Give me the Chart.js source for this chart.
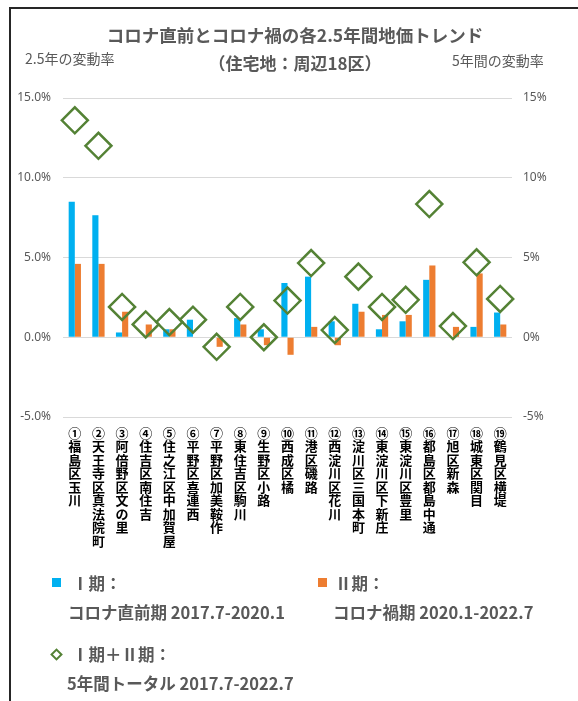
<!DOCTYPE html>
<html>
<head>
<meta charset="utf-8">
<script src="https://cdn.jsdelivr.net/npm/chart.js@4.4.1/dist/chart.umd.min.js"></script>
<style>
  body { margin: 0; background: #fff; }
  #wrap { position: relative; width: 578px; height: 701px; overflow: hidden; font-family: 'Noto Sans CJK JP', sans-serif; color: #595959; }
  #frame { position: absolute; left: 9px; top: 7px; width: 620px; height: 720px; border-top: 2px solid #262626; border-left: 2px solid #262626; }
  canvas { position: absolute; left: 0; top: 0; }
  .t { position: absolute; white-space: nowrap; }
  .title { left: 0; width: 590px; text-align: center; font-weight: bold; }
  .lg { font-size: 16.5px; font-weight: bold; line-height: 20px; }
  .sq { position: absolute; width: 9px; height: 9px; }
  .dia { position: absolute; width: 5px; height: 5px; border: 2px solid #548235; transform: rotate(45deg); }
</style>
</head>
<body>
<div id="wrap">
  <canvas id="chart" width="578" height="701"></canvas>
  <div id="frame"></div>
  <div class="t title" style="top:25px;font-size:17.5px;line-height:20px;">コロナ直前とコロナ禍の各2.5年間地価トレンド</div>
  <div class="t title" style="top:53px;font-size:17px;line-height:20px;">（住宅地：周辺18区）</div>
  <div class="t" style="left:25px;top:49px;font-size:14px;line-height:18px;">2.5年の変動率</div>
  <div class="t" style="left:452px;top:51px;font-size:14px;line-height:18px;">5年間の変動率</div>

  <div class="sq" style="left:52px;top:578px;background:#00B0F0;"></div>
  <div class="t lg" style="left:72px;top:573px;">Ⅰ期：</div>
  <div class="t lg" style="left:68px;top:602px;">コロナ直前期 2017.7-2020.1</div>

  <div class="sq" style="left:318px;top:578px;background:#ED7D31;"></div>
  <div class="t lg" style="left:335px;top:573px;">Ⅱ期：</div>
  <div class="t lg" style="left:333px;top:602px;">コロナ禍期 2020.1-2022.7</div>

  <div class="dia" style="left:52px;top:650px;"></div>
  <div class="t lg" style="left:72px;top:644px;">Ⅰ期＋Ⅱ期：</div>
  <div class="t lg" style="left:67px;top:673px;">5年間トータル 2017.7-2022.7</div>
</div>
<script>
const categories = ['①福島区玉川', '②天王寺区真法院町', '③阿倍野区文の里', '④住吉区南住吉', '⑤住之江区中加賀屋',
  '⑥平野区喜連西', '⑦平野区加美鞍作', '⑧東住吉区駒川', '⑨生野区小路', '⑩西成区橘',
  '⑪港区磯路', '⑫西淀川区花川', '⑬淀川区三国本町', '⑭東淀川区下新庄', '⑮東淀川区豊里',
  '⑯都島区都島中通', '⑰旭区新森', '⑱城東区関目', '⑲鶴見区横堤'];
// Ⅰ期 2017.7-2020.1 (%)
const period1 = [8.5, 7.65, 0.3, 0, 0.5, 1.1, 0, 1.2, 0.5, 3.4, 3.8, 1.0, 2.1, 0.5, 1.0, 3.6, 0, 0.65, 1.55];
// Ⅱ期 2020.1-2022.7 (%)
const period2 = [4.6, 4.6, 1.6, 0.8, 0.5, 0, -0.6, 0.8, -0.5, -1.1, 0.65, -0.5, 1.6, 1.4, 1.4, 4.5, 0.65, 4.0, 0.8];
// Ⅰ期＋Ⅱ期 5年間 (%)
const total = [13.6, 12.0, 1.9, 0.8, 0.95, 1.1, -0.6, 1.9, 0.0, 2.3, 4.65, 0.45, 3.8, 1.9, 2.35, 8.35, 0.7, 4.7, 2.4];
const leftTicks = [-5, 0, 5, 10, 15];

const grey = '#595959';

new Chart(document.getElementById('chart'), {
  type: 'bar',
  data: {
    labels: categories.map(c => Array.from(c)),
    datasets: [
      {
        type: 'line',
        label: 'Ⅰ期＋Ⅱ期',
        data: total,
        yAxisID: 'y1',
        showLine: false,
        pointStyle: 'rectRot',
        pointRadius: 13,
        pointBorderWidth: 2.5,
        borderColor: '#548235',
        backgroundColor: 'rgba(0,0,0,0)',
        order: 1
      },
      {
        label: 'Ⅰ期',
        data: period1,
        backgroundColor: '#00B0F0',
        categoryPercentage: 0.52,
        barPercentage: 1,
        order: 2
      },
      {
        label: 'Ⅱ期',
        data: period2,
        backgroundColor: '#ED7D31',
        categoryPercentage: 0.52,
        barPercentage: 1,
        order: 2
      }
    ]
  },
  options: {
    responsive: false,
    animation: false,
    layout: { padding: { top: 98, left: 0, right: 0, bottom: 134 } },
    plugins: {
      legend: { display: false },
      tooltip: { enabled: false }
    },
    scales: {
      x: {
        grid: { display: false },
        border: { display: false },
        afterFit: s => { s.height = 150; },
        ticks: {
          autoSkip: false,
          maxRotation: 0,
          minRotation: 0,
          padding: 1,
          color: '#000',
          font: { family: "'Noto Sans CJK JP'", size: 13, weight: 'bold', lineHeight: 1.04 }
        }
      },
      y: {
        position: 'left',
        min: -5,
        max: 15,
        afterFit: s => { s.width = 63; },
        afterBuildTicks: s => { s.ticks = leftTicks.map(v => ({ value: v })); },
        grid: { color: '#D9D9D9', lineWidth: 1, drawTicks: false },
        border: { display: false },
        ticks: {
          padding: 12,
          color: grey,
          font: { family: "'Noto Sans'", size: 12 },
          callback: v => v.toFixed(1) + '%'
        }
      },
      y1: {
        position: 'right',
        min: -5,
        max: 15,
        afterFit: s => { s.width = 66; },
        afterBuildTicks: s => { s.ticks = leftTicks.map(v => ({ value: v })); },
        grid: { drawOnChartArea: false, drawTicks: false },
        border: { display: false },
        ticks: {
          padding: 11,
          color: grey,
          font: { family: "'Noto Sans'", size: 12 },
          callback: v => v + '%'
        }
      }
    }
  }
});
</script>
</body>
</html>
